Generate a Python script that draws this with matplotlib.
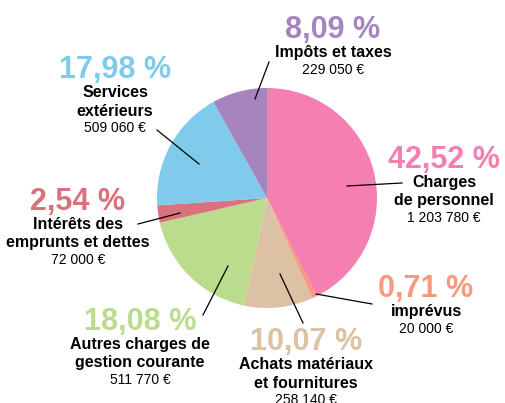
import matplotlib
matplotlib.use("Agg")
import matplotlib.pyplot as plt

plt.rcParams['font.family'] = ['Liberation Sans', 'DejaVu Sans']

# --- données (ordre horaire depuis midi) ---
labels = ["Charges\nde personnel", "imprévus", "Achats matériaux\net fournitures",
          "Autres charges de\ngestion courante", "Intérêts des\nemprunts et dettes",
          "Services\nextérieurs", "Impôts et taxes"]
percents = [42.52, 0.71, 10.07, 18.08, 2.54, 17.98, 8.09]
amounts = ["1 203 780 €", "20 000 €", "258 140 €", "511 770 €", "72 000 €",
           "509 060 €", "229 050 €"]
colors = ["#F47FB0", "#F59A7C", "#DCC1A4", "#BBDC8C", "#D9727C", "#7FCBEB", "#A685BF"]

# position des blocs de texte (centre x, ligne de base du pourcentage) en pixels
text_pos = [(444, 168), (426, 297), (306, 350), (140, 330), (78, 210), (115, 78), (333, 38)]
# traits de rappel (pixels)
leaders = [((347, 186), (402, 183)), ((316, 294), (372, 304)), ((280, 274), (303, 323)),
           ((228, 266), (203, 315)), ((180, 213), (138, 224)), ((199, 164), (157, 130)),
           ((255, 99), (269, 62))]

W, H = 505, 403
fig = plt.figure(figsize=(W / 100, H / 100), dpi=100)

# camembert : centre (267, 198), rayon 110 px
cx, cy, r = 267, 198, 110
ax = fig.add_axes([(cx - r) / W, (H - cy - r) / H, 2 * r / W, 2 * r / H])
ax.pie(percents, colors=colors, startangle=90, counterclock=False,
       wedgeprops=dict(linewidth=0))
ax.set_xlim(-1, 1)
ax.set_ylim(-1, 1)
ax.set_aspect('equal')
ax.axis('off')

# calque en pixels pour les textes et traits
ov = fig.add_axes([0, 0, 1, 1])
ov.set_xlim(0, W)
ov.set_ylim(H, 0)
ov.axis('off')
ov.patch.set_alpha(0)

for (p0, p1) in leaders:
    ov.plot([p0[0], p1[0]], [p0[1], p1[1]], color='black', lw=0.9)

for lab, pct, amt, col, (x, y) in zip(labels, percents, amounts, colors, text_pos):
    pct_txt = f"{pct:.2f}".replace('.', ',') + " %"
    ov.text(x, y, pct_txt, color=col, fontsize=22, fontweight='bold',
            ha='center', va='baseline')
    yy = y + 19
    for line in lab.split('\n'):
        ov.text(x, yy, line, color='black', fontsize=11.5, fontweight='bold',
                ha='center', va='baseline')
        yy += 18.5
    ov.text(x, yy - 1.5, amt, color='black', fontsize=10, ha='center', va='baseline')

fig.savefig("out.png", dpi=100)
